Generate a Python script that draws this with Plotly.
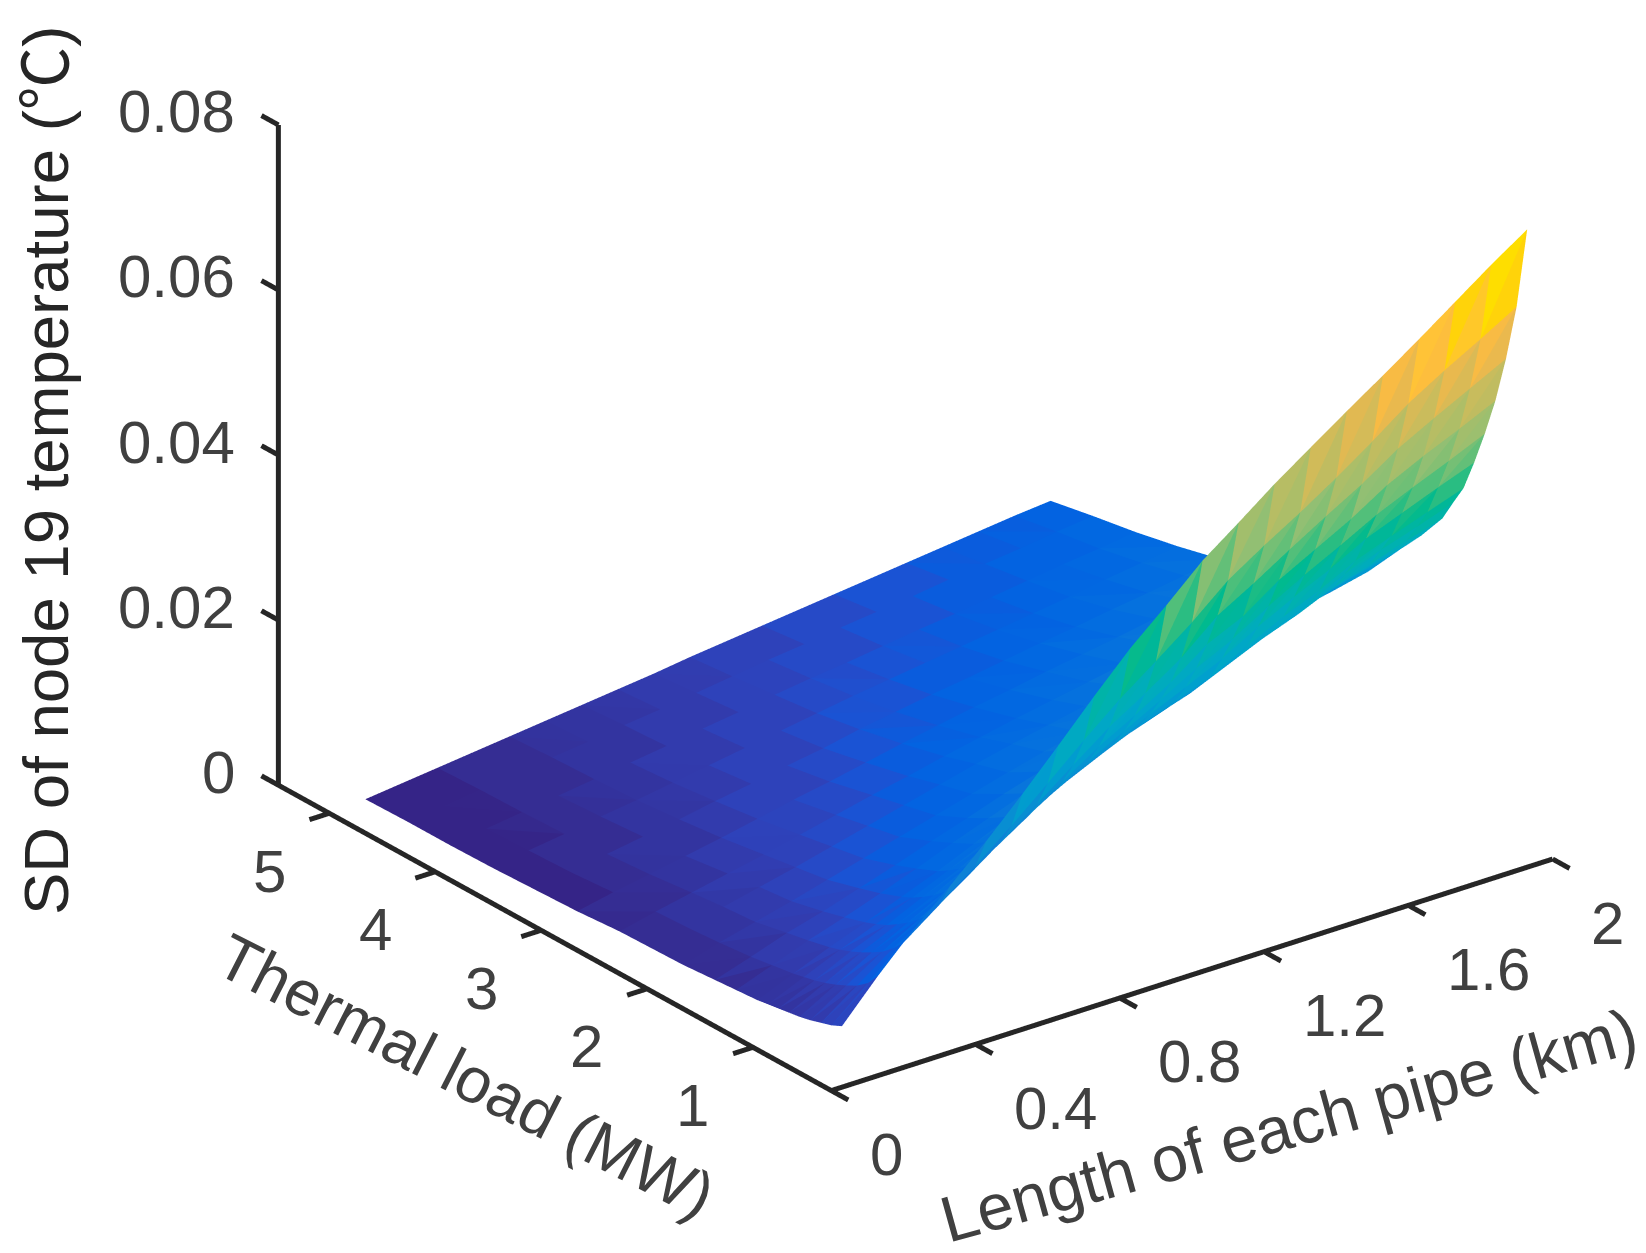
import numpy as np
import plotly.graph_objects as go

lengths = [0.1,0.2,0.3,0.4,0.5,0.6,0.7,0.8,0.9,1.0,1.1,1.2,1.3,1.4,1.5,1.6,1.7,1.8,1.9,2.0]
loads = [0.5,0.6,0.7,0.8,0.9,1.0,1.1,1.2,1.3,1.5,1.7,2.0,2.3,2.6,3.0,3.4,3.8,4.2,4.6,5.0]
sd = [
[.0047,.0041,.0037,.0033,.0030,.0028,.0026,.0024,.0022,.0020,.0018,.0015,.0014,.0013,.0009,.0007,.0005,.0004,.0004,.0003],
[.0094,.0078,.0068,.0061,.0055,.0050,.0046,.0043,.0040,.0036,.0032,.0028,.0025,.0023,.0018,.0014,.0012,.0010,.0009,.0008],
[.0137,.0113,.0099,.0088,.0080,.0073,.0067,.0062,.0058,.0052,.0047,.0039,.0036,.0032,.0026,.0022,.0018,.0016,.0015,.0013],
[.0175,.0145,.0126,.0113,.0102,.0093,.0085,.0079,.0074,.0066,.0059,.0050,.0046,.0041,.0034,.0029,.0025,.0022,.0020,.0018],
[.0215,.0178,.0155,.0138,.0125,.0114,.0105,.0097,.0091,.0081,.0073,.0062,.0056,.0050,.0042,.0036,.0031,.0028,.0026,.0023],
[.0258,.0213,.0186,.0166,.0150,.0137,.0125,.0116,.0108,.0097,.0087,.0074,.0067,.0060,.0051,.0044,.0038,.0034,.0031,.0028],
[.0303,.0250,.0218,.0194,.0176,.0160,.0147,.0136,.0127,.0114,.0102,.0086,.0078,.0070,.0060,.0051,.0045,.0040,.0037,.0033],
[.0349,.0288,.0251,.0224,.0202,.0184,.0168,.0156,.0146,.0130,.0116,.0098,.0089,.0080,.0068,.0059,.0052,.0047,.0042,.0038],
[.0393,.0324,.0283,.0252,.0227,.0207,.0189,.0176,.0164,.0146,.0131,.0110,.0100,.0089,.0077,.0066,.0059,.0053,.0048,.0043],
[.0431,.0356,.0310,.0276,.0250,.0227,.0209,.0193,.0180,.0161,.0144,.0122,.0111,.0099,.0086,.0075,.0066,.0060,.0054,.0049],
[.0471,.0389,.0339,.0302,.0273,.0249,.0228,.0211,.0197,.0176,.0158,.0133,.0121,.0108,.0094,.0082,.0073,.0066,.0060,.0054],
[.0503,.0426,.0376,.0334,.0298,.0268,.0244,.0226,.0211,.0189,.0169,.0143,.0130,.0117,.0102,.0089,.0079,.0071,.0065,.0059],
[.0536,.0454,.0401,.0354,.0319,.0288,.0260,.0242,.0225,.0202,.0181,.0153,.0139,.0125,.0109,.0095,.0085,.0077,.0071,.0064],
[.0566,.0480,.0428,.0384,.0345,.0313,.0283,.0261,.0244,.0218,.0195,.0164,.0149,.0133,.0117,.0102,.0091,.0083,.0076,.0069],
[.0596,.0508,.0454,.0407,.0369,.0335,.0304,.0281,.0263,.0234,.0208,.0175,.0158,.0141,.0124,.0109,.0097,.0088,.0081,.0074],
[.0625,.0538,.0479,.0430,.0391,.0355,.0322,.0300,.0279,.0250,.0223,.0186,.0168,.0149,.0131,.0115,.0103,.0094,.0087,.0079],
[.0655,.0570,.0508,.0457,.0414,.0378,.0344,.0321,.0298,.0267,.0239,.0197,.0177,.0157,.0139,.0122,.0109,.0100,.0092,.0084],
[.0686,.0596,.0531,.0478,.0433,.0395,.0360,.0336,.0312,.0280,.0250,.0206,.0185,.0165,.0146,.0128,.0116,.0106,.0097,.0089],
[.0717,.0620,.0553,.0497,.0451,.0412,.0375,.0350,.0326,.0292,.0261,.0215,.0194,.0173,.0153,.0135,.0122,.0111,.0103,.0094],
[.0746,.0645,.0575,.0517,.0470,.0428,.0390,.0365,.0339,.0304,.0273,.0225,.0203,.0180,.0160,.0141,.0128,.0117,.0108,.0098],
]
length_ticks = [0,0.4,0.8,1.2,1.6,2]
length_labels = ["0","0.4","0.8","1.2","1.6","2"]
load_ticks = [1,2,3,4,5]
load_labels = ["1","2","3","4","5"]
sd_ticks = [0,0.02,0.04,0.06,0.08]
sd_labels = ["0","0.02","0.04","0.06","0.08"]
parula = [
(.2081,.1400,.5292),(.2060,.1750,.5777),(.2000,.2050,.6270),(.1950,.2300,.6771),(.1800,.2600,.7279),(.1500,.2900,.7792),(.1000,.3242,.8303),(.0400,.3598,.8683),
(.0100,.3875,.8820),(.0060,.4086,.8828),(.0100,.4266,.8786),(.0200,.4430,.8720),(.0300,.4586,.8641),(.0400,.4737,.8554),(.0500,.4887,.8467),(.0500,.5040,.8384),
(.0500,.5200,.8312),(.0400,.5375,.8263),(.0300,.5570,.8240),(.0200,.5772,.8228),(.0100,.5966,.8199),(.0050,.6137,.8135),(.0000,.6287,.8038),(.0000,.6418,.7913),
(.0000,.6530,.7770),(.0000,.6640,.7600),(.0000,.6740,.7400),(.0000,.6840,.7150),(.0000,.6930,.6900),(.0000,.7020,.6600),(.0000,.7100,.6300),(.0000,.7180,.5950),
(.0000,.7280,.5600),(.0800,.7350,.5300),(.1600,.7400,.5100),(.2400,.7450,.4950),(.3200,.7480,.4800),(.3900,.7500,.4700),(.4600,.7500,.4600),(.5200,.7500,.4500),
(.5709,.7485,.4494),(.6099,.7473,.4337),(.6473,.7456,.4188),(.6834,.7435,.4044),(.7184,.7411,.3905),(.7525,.7384,.3768),(.7858,.7356,.3633),(.8185,.7327,.3498),
(.8507,.7299,.3360),(.8824,.7274,.3217),(.9139,.7258,.3063),(.9450,.7261,.2886),(.9739,.7314,.2666),(.9938,.7455,.2403),(.9990,.7653,.2164),(.9990,.7861,.1600),
(1.000,.8066,.1000),(1.000,.8271,.0400),(1.000,.8481,.0000),(.9950,.8705,.0000),(.9850,.8949,.0000),(.9750,.9218,.0000),(.9700,.9400,.0000),(.9700,.9500,.0000),
]

x_min, x_max = 0.0, 2.0
y_min, y_max = 0.26, 5.48
z_min, z_max = 0.0, 0.08
TICK_X, TICK_Y = 0.055, 0.16
AXIS_COLOR = "#262626"
TICK_COLOR = "#404040"

z = np.array(sd)
nL, nT = z.shape
X, Y = np.meshgrid(lengths, loads, indexing="ij")
idx = lambda a, b: a * nT + b
I, J, K, tone = [], [], [], []
for a in range(nL - 1):
    for b in range(nT - 1):
        for tri in ((idx(a,b), idx(a+1,b), idx(a,b+1)), (idx(a+1,b), idx(a+1,b+1), idx(a,b+1))):
            I.append(tri[0]); J.append(tri[1]); K.append(tri[2])
            tone.append(z.ravel()[list(tri)].mean())

scale = []
for n, c in enumerate(parula):
    col = "rgb(%d,%d,%d)" % tuple(round(v * 255) for v in c)
    scale += [[n / 64, col], [(n + 1) / 64, col]]

fig = go.Figure(go.Mesh3d(
    x=X.ravel(), y=Y.ravel(), z=z.ravel(), i=I, j=J, k=K,
    intensity=tone, intensitymode="cell", colorscale=scale,
    cmin=z.min(), cmax=z.max(), showscale=False, flatshading=True,
    lighting=dict(ambient=1, diffuse=0, specular=0, roughness=1, fresnel=0),
    hoverinfo="skip",
))

lx, ly, lz = [], [], []
def seg(p, q):
    lx.extend([p[0], q[0], None]); ly.extend([p[1], q[1], None]); lz.extend([p[2], q[2], None])
seg((x_min, y_min, z_min), (x_max, y_min, z_min))
seg((x_min, y_min, z_min), (x_min, y_max, z_min))
seg((x_min, y_max, z_min), (x_min, y_max, z_max))
for t in length_ticks:
    seg((t, y_min, z_min), (t, y_min - TICK_Y, z_min))
for t in load_ticks:
    seg((x_min, t, z_min), (x_min - TICK_X, t, z_min))
for t in sd_ticks:
    seg((x_min, y_max, t), (x_min, y_max + TICK_Y, t))
fig.add_trace(go.Scatter3d(x=lx, y=ly, z=lz, mode="lines", line=dict(color=AXIS_COLOR, width=10), hoverinfo="skip", showlegend=False))

def tick_note(x, y, zv, text, xshift, yshift, xanchor="center"):
    return dict(x=x, y=y, z=zv, text=text, showarrow=False, xanchor=xanchor, yanchor="middle", xshift=xshift, yshift=yshift,
                font=dict(family="Liberation Sans", size=60, color=TICK_COLOR))
scene_notes = []
for t, s in zip(sd_ticks, sd_labels):
    scene_notes.append(tick_note(x_min, y_max, t, s, -41, 13, "right"))
for t, s in zip(load_ticks, load_labels):
    scene_notes.append(tick_note(x_min, t, z_min, s, -60, -58))
for t, s in zip(length_ticks, length_labels):
    scene_notes.append(tick_note(t, y_min, z_min, s, 80 if len(s) > 1 else 55, -64))

hidden = dict(visible=False, showgrid=False, zeroline=False, showbackground=False, showspikes=False)

W, H = 1646, 1253
def note(text, cx, cy, angle, size, color):
    return dict(text=text, xref="paper", yref="paper", x=cx / W, y=1 - cy / H, xanchor="center", yanchor="middle",
                showarrow=False, textangle=angle, font=dict(family="Liberation Sans", size=size, color=color))

fig.update_layout(
    width=W, height=H, margin=dict(l=0, r=0, t=0, b=0), paper_bgcolor="white", showlegend=False,
    scene=dict(
        domain=dict(x=[0, 1], y=[0, 1]),
        xaxis=dict(range=[x_min - 0.06, x_max + 0.06], **hidden),
        yaxis=dict(range=[y_min - 0.18, y_max + 0.18], **hidden),
        zaxis=dict(range=[z_min - 0.001, z_max + 0.001], **hidden),
        aspectmode="manual", aspectratio=dict(x=1.5346, y=1.556, z=1.191),
        camera=dict(projection=dict(type="orthographic"), up=dict(x=0, y=0, z=1),
                    center=dict(x=-0.1065, y=0.0828, z=-0.2514), eye=dict(x=-1.2059, y=-1.3594, z=0.5906)),
        annotations=scene_notes,
    ),
    annotations=[
        note('SD of node 19 temperature (<span style="font-family:Noto Sans CJK SC">℃</span>)', 32, 463, -90, 63.5, AXIS_COLOR),
        note("Thermal load (MW)", 458, 1068, 27, 64, TICK_COLOR),
        note("Length of each pipe (km)", 1280, 1117, -15.5, 65, TICK_COLOR),
    ],
)
fig.write_html("out.html")
